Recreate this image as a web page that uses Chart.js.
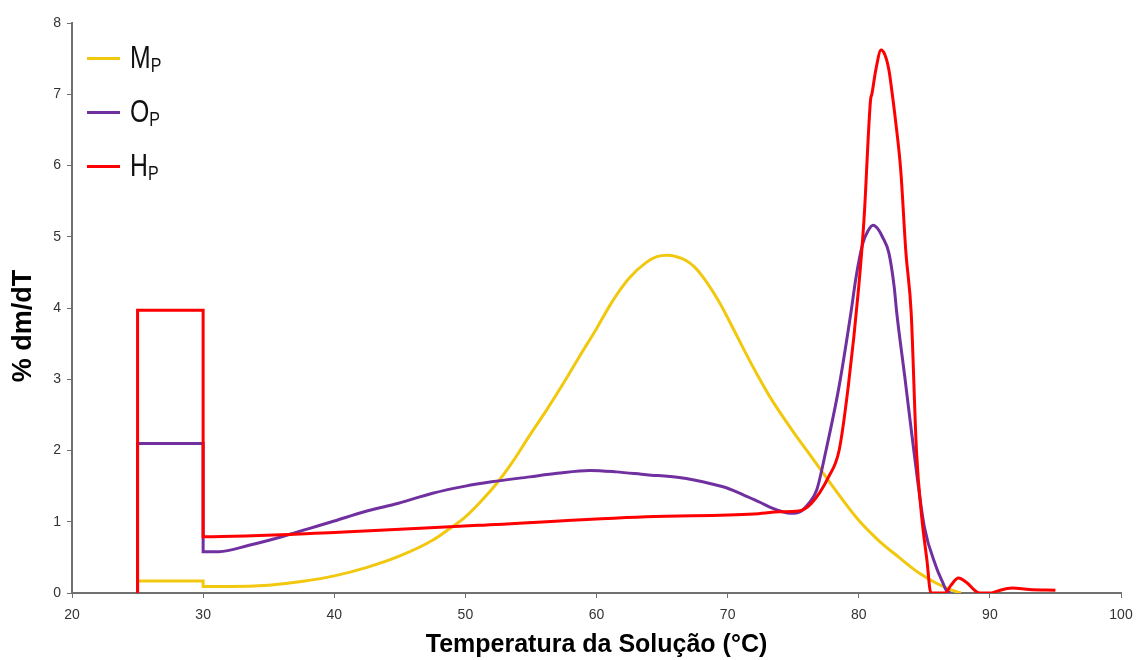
<!DOCTYPE html>
<html>
<head>
  <title>% dm/dT</title>
  <script src="https://cdn.jsdelivr.net/npm/chart.js"></script>
  <style>
    body { margin: 0; background: #fff; }
    #wrap { position: relative; width: 1136px; height: 660px; }
    #legend { position: absolute; left: 87px; top: 31px; font-family: "Liberation Sans", Arial, sans-serif; }
    .item { height: 54px; display: flex; align-items: center; }
    .swatch { width: 33px; height: 3px; margin-right: 10px; }
    .lbl { font-size: 31px; color: #111; transform: scaleX(0.8); transform-origin: left center; }
    .lbl sub { font-size: 20px; vertical-align: -4px; }
    #ytitle { position: absolute; left: -77px; top: 310px; width: 200px; height: 32px; line-height: 32px;
              text-align: center; transform: rotate(-90deg); font: bold 27px "Liberation Sans", Arial, sans-serif; color: #000; }
  </style>
</head>
<body>
  <div id="wrap">
    <canvas id="chartCanvas" width="1136" height="660"></canvas>
    <div id="ytitle">% dm/dT</div>
    <div id="legend"></div>
  </div>

  <script>
    // temperatura (°C) e % dm/dT
    const mpTemp = [25, 25, 30, 30, 32, 35, 37.5, 40, 42.5, 45, 47.5, 49, 50, 51, 52.4, 53.6, 55, 56.2, 57.5, 58.7, 60, 61.2, 62.5, 63.8, 64.6, 65.4, 66.1, 66.8, 67.5, 68.1, 69.4, 70.4, 71.4, 72.3, 73.2, 74.9, 76.2, 78, 80, 81.5, 83, 84.6, 86, 87.1, 87.8];
    const mpValues = [0, 0.17, 0.17, 0.09, 0.09, 0.11, 0.16, 0.24, 0.36, 0.52, 0.74, 0.93, 1.07, 1.25, 1.54, 1.84, 2.24, 2.57, 2.95, 3.32, 3.71, 4.09, 4.42, 4.64, 4.72, 4.74, 4.72, 4.67, 4.57, 4.44, 4.07, 3.72, 3.36, 3.05, 2.76, 2.29, 1.96, 1.5, 1.02, 0.74, 0.51, 0.28, 0.13, 0.04, 0];

    const opTemp = [25, 25, 30, 30, 31.2, 33.5, 36, 38, 40, 42.3, 44.9, 47.5, 50, 52, 54.9, 57, 59.5, 61.5, 63.8, 66.3, 68.8, 70, 71.4, 72.5, 73.4, 74.2, 74.8, 75.5, 76.2, 76.8, 77.5, 78.5, 79.4, 79.8, 80.3, 80.7, 81.1, 81.5, 81.8, 82.3, 82.7, 82.9, 83.5, 84.2, 85, 85.9, 86.4, 86.7, 87];
    const opValues = [0, 2.1, 2.1, 0.58, 0.58, 0.67, 0.79, 0.9, 1.01, 1.14, 1.26, 1.4, 1.5, 1.56, 1.63, 1.68, 1.72, 1.7, 1.66, 1.62, 1.53, 1.47, 1.36, 1.27, 1.19, 1.14, 1.12, 1.14, 1.26, 1.45, 2.0, 2.9, 3.93, 4.44, 4.9, 5.08, 5.16, 5.1, 5.0, 4.77, 4.3, 3.93, 3.05, 2.0, 0.93, 0.37, 0.15, 0.03, 0];

    const hpTemp = [25, 25, 30, 30, 40, 51, 63.8, 72, 74, 75.4, 76.4, 77.7, 78.5, 79.2, 80, 80.4, 80.9, 81.0, 81.3, 81.7, 82.0, 82.3, 82.55, 82.8, 83.2, 83.6, 84.0, 84.4, 84.8, 85.2, 85.5, 86.6, 87.0, 87.6, 88.2, 89.2, 90.1, 90.6, 91.7, 93, 95];
    const hpValues = [0, 3.97, 3.97, 0.79, 0.85, 0.95, 1.07, 1.11, 1.14, 1.15, 1.26, 1.63, 2.0, 2.9, 4.3, 5.24, 6.92, 7.0, 7.34, 7.62, 7.55, 7.34, 7.01, 6.64, 5.94, 4.77, 3.93, 2.0, 1.07, 0.46, 0, 0, 0.1, 0.21, 0.15, 0, 0, 0.03, 0.07, 0.05, 0.04];

    const seriesNames = ["M", "O", "H"];
    const seriesSub = "P";
    const seriesColors = ["#f2c80f", "#7030a0", "#ff0000"];

    const xTicks = [20, 30, 40, 50, 60, 70, 80, 90, 100];
    const yTicks = [0, 1, 2, 3, 4, 5, 6, 7, 8];

    function toPoints(xs, ys) {
      return xs.map((x, i) => ({ x: x, y: ys[i] }));
    }

    const allTemps = [mpTemp, opTemp, hpTemp];
    const allValues = [mpValues, opValues, hpValues];
    const drawOrder = [2, 1, 0]; // vermelho por cima

    const datasets = seriesNames.map((name, i) => ({
      label: name + seriesSub,
      data: toPoints(allTemps[i], allValues[i]),
      borderColor: seriesColors[i],
      backgroundColor: seriesColors[i],
      borderWidth: 3,
      pointRadius: 0,
      tension: 0.4,
      cubicInterpolationMode: "monotone",
      fill: false,
      order: drawOrder[i]
    }));

    // legenda com subscrito
    const legend = document.getElementById("legend");
    seriesNames.forEach((name, i) => {
      const row = document.createElement("div");
      row.className = "item";
      row.innerHTML = `<span class="swatch" style="background:${seriesColors[i]}"></span><span class="lbl">${name}<sub>${seriesSub}</sub></span>`;
      legend.appendChild(row);
    });

    const tickFont = { family: "'Liberation Sans', Arial, sans-serif", size: 14 };
    const axisGray = "#707070";

    const ctx = document.getElementById("chartCanvas").getContext("2d");
    new Chart(ctx, {
      type: "line",
      data: { datasets: datasets },
      options: {
        responsive: false,
        animation: false,
        layout: { padding: { top: 23, right: 15, left: 0, bottom: 0 } },
        plugins: { legend: { display: false }, tooltip: { enabled: false } },
        scales: {
          x: {
            type: "linear",
            min: xTicks[0],
            max: xTicks[xTicks.length - 1],
            afterBuildTicks: s => { s.ticks = xTicks.map(v => ({ value: v })); },
            afterFit: s => { s.height = 67; s.paddingLeft = 0; s.paddingRight = 0; },
            ticks: { font: tickFont, color: "#333", padding: 9, maxRotation: 0 },
            grid: { drawOnChartArea: false, drawTicks: true, tickLength: 5, color: axisGray, lineWidth: 1 },
            border: { color: axisGray, width: 2 },
            title: {
              display: true,
              text: "Temperatura da Solução (°C)",
              color: "#000",
              font: { family: "'Liberation Sans', Arial, sans-serif", size: 25, weight: "bold" },
              padding: { top: 0, bottom: 0 }
            }
          },
          y: {
            min: yTicks[0],
            max: yTicks[yTicks.length - 1],
            afterBuildTicks: s => { s.ticks = yTicks.map(v => ({ value: v })); },
            afterFit: s => { s.width = 72; },
            ticks: { font: tickFont, color: "#333", padding: 6 },
            grid: { drawOnChartArea: false, drawTicks: true, tickLength: 5, color: axisGray, lineWidth: 1 },
            border: { color: axisGray, width: 2 }
          }
        }
      }
    });
  </script>
</body>
</html>
